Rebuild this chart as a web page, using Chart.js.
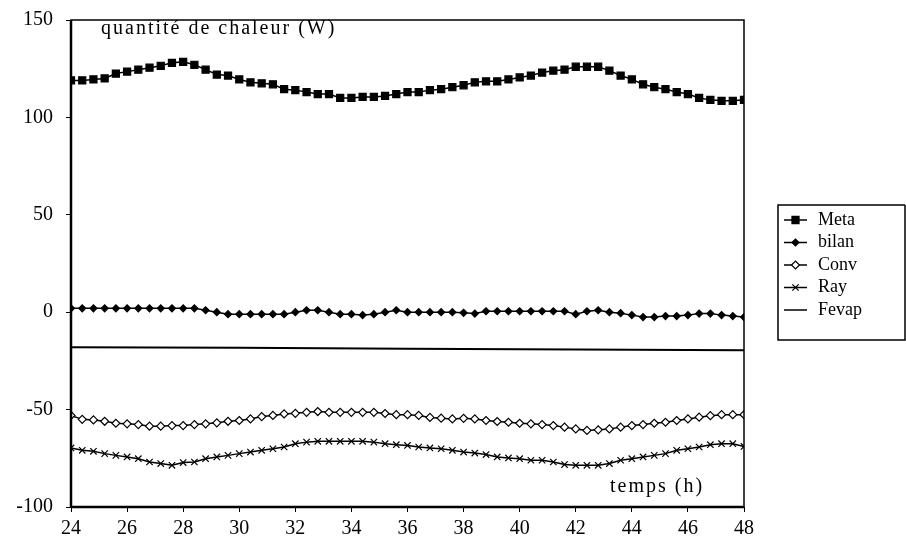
<!DOCTYPE html>
<html>
<head>
<meta charset="utf-8">
<script src="https://cdn.jsdelivr.net/npm/chart.js@4.4.1/dist/chart.umd.min.js"></script>
<style>
  html, body { margin: 0; padding: 0; background: #fff; }
  #wrap { width: 906px; height: 550px; }
</style>
</head>
<body>
<div id="wrap"><canvas id="heat-linechart" width="906" height="550"></canvas></div>
<script>
// temps (h), one point every 0.4 h
const hours = [
  24, 24.4, 24.8, 25.2, 25.6, 26, 26.4, 26.8, 27.2, 27.6,
  28, 28.4, 28.8, 29.2, 29.6, 30, 30.4, 30.8, 31.2, 31.6,
  32, 32.4, 32.8, 33.2, 33.6, 34, 34.4, 34.8, 35.2, 35.6,
  36, 36.4, 36.8, 37.2, 37.6, 38, 38.4, 38.8, 39.2, 39.6,
  40, 40.4, 40.8, 41.2, 41.6, 42, 42.4, 42.8, 43.2, 43.6,
  44, 44.4, 44.8, 45.2, 45.6, 46, 46.4, 46.8, 47.2, 47.6, 48,
];

const meta = [
  119, 119, 119.5, 120, 122.5, 123.5, 124.5, 125.5, 126.5, 128,
  128.5, 127, 124.5, 122, 121.5, 119.5, 118, 117.5, 117, 114.5,
  114, 113, 112, 112, 110, 110, 110.5, 110.5, 111, 112,
  113, 113, 114, 114.5, 115.5, 116.5, 118, 118.5, 118.5, 119.5,
  120.5, 121.5, 123, 124, 124.5, 126, 126, 126, 124, 121.5,
  119.5, 117, 115.5, 114.5, 113, 112, 110, 109, 108.5, 108.5, 109,
];

const bilan = [
  2, 2, 2, 2, 2, 2, 2, 2, 2, 2,
  2, 2, 1, 0, -1, -1, -1, -1, -1, -1,
  0, 1, 1, 0, -1, -1, -1.5, -1, 0, 1,
  0, 0, 0, 0, 0, -0.3, -0.7, 0.5, 0.5, 0.5,
  0.5, 0.5, 0.5, 0.5, 0.5, -1, 0.5, 1, 0, -0.5,
  -1.5, -2.5, -2.5, -2, -2, -1.5, -0.7, -0.7, -1.5, -2, -2.5,
];

const conv = [
  -53, -55, -55.3, -56, -57, -57.3, -57.7, -58.5, -58.5, -58.2,
  -58.2, -57.7, -57.3, -56.8, -56, -55.6, -54.8, -53.6, -53, -52.2,
  -51.9, -51.4, -51, -51.4, -51.4, -51.4, -51.4, -51.4, -52, -52.6,
  -52.6, -53, -54, -54.4, -54.8, -54.5, -54.8, -55.6, -56.1, -56.5,
  -57, -57.3, -57.7, -58.2, -59, -59.9, -60.7, -60.4, -59.9, -59,
  -58.2, -57.7, -57, -56.5, -55.6, -54.8, -53.9, -53.1, -52.6, -52.6, -52.6,
];

const ray = [
  -69.7, -70.9, -71.4, -72.6, -73.5, -74.3, -75.2, -76.9, -77.7, -78.6,
  -77.2, -76.9, -75.2, -74.3, -73.5, -72.6, -71.8, -70.9, -70.1, -69.2,
  -67.5, -66.7, -66.3, -66.3, -66.3, -66.3, -66.3, -66.7, -67.5, -68,
  -68.4, -69.2, -69.7, -70.1, -70.9, -71.8, -72.3, -73.1, -74.3, -74.8,
  -75.2, -76, -76, -76.9, -78.2, -78.6, -78.6, -78.6, -77.7, -76,
  -75.2, -74.3, -73.5, -72.6, -70.9, -70.1, -69.2, -68, -67.5, -67.5, -68.9,
];

// Fevap is drawn as a plain line, read at a few hours only
const fevapHours = [24, 30, 36, 42, 48];
const fevap = [-18, -18.3, -18.7, -19.2, -19.5];

const yTicks = [-100, -50, 0, 50, 100, 150];
const xTicks = [24, 26, 28, 30, 32, 34, 36, 38, 40, 42, 44, 46, 48];

const SERIF = '"Liberation Serif", "DejaVu Serif", serif';

const toPoints = (xs, ys) => xs.map((x, i) => ({ x, y: ys[i] }));

// frame, inner captions and the boxed legend on the right
const decorPlugin = {
  id: 'decor',
  afterDraw(chart) {
    const { ctx, chartArea } = chart;
    const { left, right, top, bottom } = chartArea;
    ctx.save();
    ctx.strokeStyle = '#000';
    ctx.lineWidth = 1.5;
    ctx.strokeRect(left, top, right - left, bottom - top);
    ctx.lineWidth = 2.5;
    ctx.beginPath();
    ctx.moveTo(left, top);
    ctx.lineTo(left, bottom);
    ctx.moveTo(left, bottom);
    ctx.lineTo(right, bottom);
    ctx.stroke();

    ctx.fillStyle = '#000';
    ctx.textBaseline = 'middle';
    ctx.textAlign = 'left';
    ctx.font = `20px ${SERIF}`;
    ctx.letterSpacing = '2px';
    ctx.fillText('quantité de chaleur (W)', 101, 29);
    ctx.fillText('temps (h)', 610, 487);
    ctx.letterSpacing = '0px';

    // legend
    const boxL = 778;
    const boxT = 205;
    const boxB = 340;
    ctx.lineWidth = 1.5;
    ctx.beginPath();
    ctx.moveTo(905, boxT);
    ctx.lineTo(boxL, boxT);
    ctx.lineTo(boxL, boxB);
    ctx.lineTo(905, boxB);
    ctx.lineTo(905, boxT);
    ctx.stroke();

    ctx.font = `18px ${SERIF}`;
    chart.data.datasets.forEach((ds, i) => {
      const y = 220 + i * 22.5;
      ctx.strokeStyle = '#000';
      ctx.lineWidth = 1.5;
      ctx.beginPath();
      ctx.moveTo(784, y);
      ctx.lineTo(807, y);
      ctx.stroke();
      if (ds.pointRadius > 0) {
        ctx.fillStyle = ds.pointBackgroundColor;
        ctx.strokeStyle = '#000';
        ctx.lineWidth = ds.pointBorderWidth;
        Chart.helpers.drawPoint(ctx, {
          pointStyle: ds.pointStyle,
          radius: ds.pointRadius,
          rotation: 0,
          borderWidth: ds.pointBorderWidth,
        }, 795.5, y);
      }
      ctx.fillStyle = '#000';
      ctx.fillText(ds.label, 818, y);
    });
    ctx.restore();
  },
};

const series = (label, xs, ys, style, radius, fill) => ({
  label,
  data: toPoints(xs, ys),
  borderColor: '#000',
  borderWidth: 1.5,
  pointStyle: style,
  pointRadius: radius,
  pointHoverRadius: radius,
  pointBackgroundColor: fill,
  pointBorderColor: '#000',
  pointBorderWidth: 1.2,
  tension: 0,
});

const datasets = [
  series('Meta', hours, meta, 'rect', 5, '#000'),
  series('bilan', hours, bilan, 'rectRot', 3.5, '#000'),
  series('Conv', hours, conv, 'rectRot', 4, '#fff'),
  series('Ray', hours, ray, 'crossRot', 4.5, '#000'),
  { ...series('Fevap', fevapHours, fevap, 'circle', 0, '#000'), borderWidth: 2 },
];

const ctx = document.getElementById('heat-linechart').getContext('2d');
// eslint-disable-next-line no-unused-vars
const chart = new Chart(ctx, {
  type: 'line',
  data: { datasets },
  plugins: [decorPlugin],
  options: {
    responsive: false,
    animation: false,
    layout: { padding: { top: 20, right: 162, bottom: 0, left: 0 } },
    plugins: {
      legend: { display: false },
      tooltip: { enabled: false },
    },
    scales: {
      x: {
        type: 'linear',
        min: 24,
        max: 48,
        afterFit(scale) {
          scale.height = 43;
          scale.paddingLeft = 0;
          scale.paddingRight = 0;
        },
        afterBuildTicks(scale) {
          scale.ticks = xTicks.map((value) => ({ value }));
        },
        border: { display: false },
        grid: {
          drawOnChartArea: false,
          color: '#000',
          tickLength: 5,
        },
        ticks: {
          color: '#000',
          padding: 5,
          maxRotation: 0,
          font: { family: SERIF, size: 20 },
        },
      },
      y: {
        min: -100,
        max: 150,
        afterFit(scale) {
          scale.width = 71;
          scale.paddingTop = 0;
          scale.paddingBottom = 0;
        },
        afterBuildTicks(scale) {
          scale.ticks = yTicks.map((value) => ({ value }));
        },
        border: { display: false },
        grid: {
          drawOnChartArea: false,
          color: '#000',
          tickLength: 5,
        },
        ticks: {
          color: '#000',
          padding: 13,
          font: { family: SERIF, size: 20 },
        },
      },
    },
  },
});
</script>
</body>
</html>
